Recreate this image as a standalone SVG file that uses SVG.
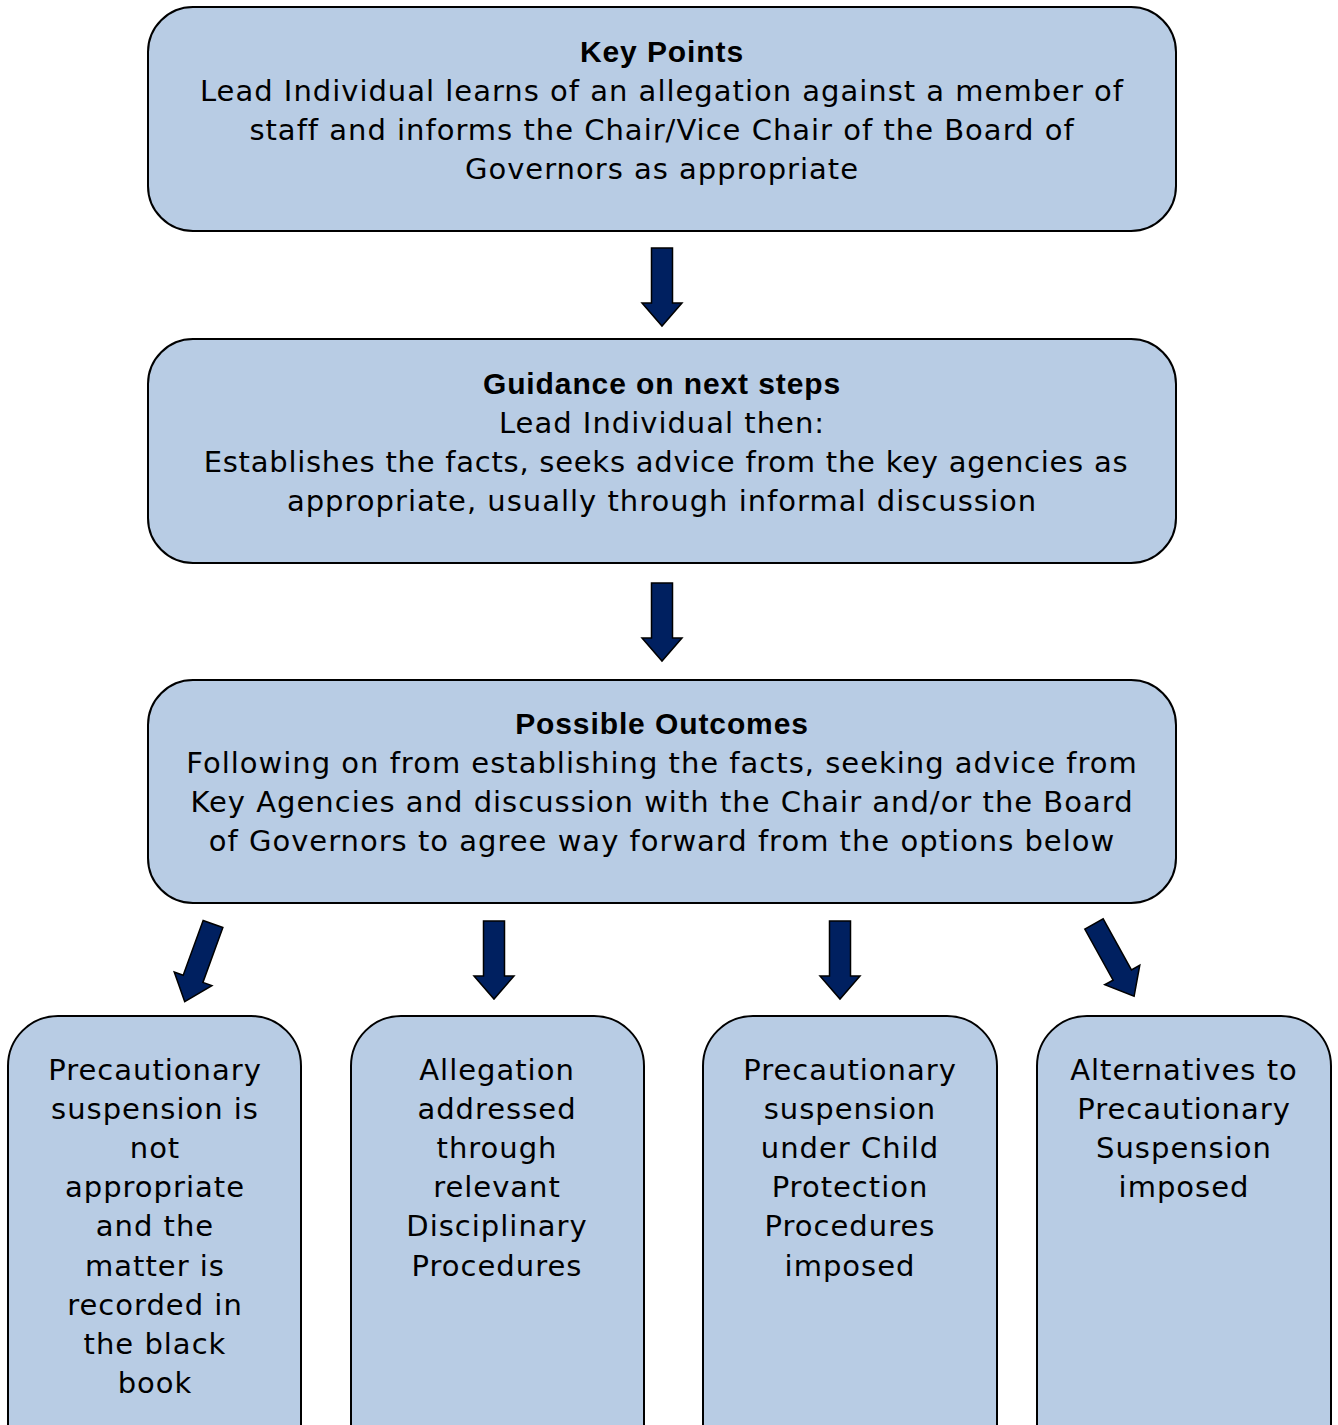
<svg xmlns="http://www.w3.org/2000/svg" xmlns:xlink="http://www.w3.org/1999/xlink" width="1338" height="1425" viewBox="0 0 1338 1425">
<style>
.box{fill:#B8CCE4;stroke:#000;stroke-width:2}
.t{font-family:"DejaVu Sans","Liberation Sans",sans-serif;font-size:29px;letter-spacing:1px;fill:#000;text-anchor:middle}
.b{font-family:"Liberation Sans",Arial,sans-serif;font-size:30px;font-weight:bold;letter-spacing:0.9px}
.arr{fill:#002060;stroke:#000;stroke-width:1.5;stroke-linejoin:miter}
</style>
<defs>
<path id="arrow" d="M-10.5,0 H10.5 V55 H20 L0,78 L-20,55 H-10.5 Z"/>
</defs>
<rect width="1338" height="1425" fill="#fff"/>
<g id="n1">
<rect class="box" x="148" y="7" width="1028" height="224" rx="45"/>
<text class="t b" x="662" y="62">Key Points</text>
<text class="t" x="662" y="101">Lead Individual learns of an allegation against a member of</text>
<text class="t" x="662" y="140">staff and informs the Chair/Vice Chair of the Board of</text>
<text class="t" x="662" y="179">Governors as appropriate</text>
</g>
<g id="n2">
<rect class="box" x="148" y="339" width="1028" height="224" rx="45"/>
<text class="t b" x="662" y="394">Guidance on next steps</text>
<text class="t" x="662" y="433">Lead Individual then:</text>
<text class="t" x="666" y="472" style="letter-spacing:0.75px">Establishes the facts, seeks advice from the key agencies as</text>
<text class="t" x="662" y="511">appropriate, usually through informal discussion</text>
</g>
<g id="n3">
<rect class="box" x="148" y="680" width="1028" height="223" rx="45"/>
<text class="t b" x="662" y="734">Possible Outcomes</text>
<text class="t" x="662" y="773">Following on from establishing the facts, seeking advice from</text>
<text class="t" x="662" y="812">Key Agencies and discussion with the Chair and/or the Board</text>
<text class="t" x="662" y="851">of Governors to agree way forward from the options below</text>
</g>
<g id="n4">
<rect class="box" x="8" y="1016" width="293" height="460" rx="50"/>
<text class="t" x="155" y="1080">Precautionary</text>
<text class="t" x="155" y="1119">suspension is</text>
<text class="t" x="155" y="1158">not</text>
<text class="t" x="155" y="1197">appropriate</text>
<text class="t" x="155" y="1236">and the</text>
<text class="t" x="155" y="1276">matter is</text>
<text class="t" x="155" y="1315">recorded in</text>
<text class="t" x="155" y="1354">the black</text>
<text class="t" x="155" y="1393">book</text>
</g>
<g id="n5">
<rect class="box" x="351" y="1016" width="293" height="460" rx="50"/>
<text class="t" x="497" y="1080">Allegation</text>
<text class="t" x="497" y="1119">addressed</text>
<text class="t" x="497" y="1158">through</text>
<text class="t" x="497" y="1197">relevant</text>
<text class="t" x="497" y="1236">Disciplinary</text>
<text class="t" x="497" y="1276">Procedures</text>
</g>
<g id="n6">
<rect class="box" x="703" y="1016" width="294" height="460" rx="50"/>
<text class="t" x="850" y="1080">Precautionary</text>
<text class="t" x="850" y="1119">suspension</text>
<text class="t" x="850" y="1158">under Child</text>
<text class="t" x="850" y="1197">Protection</text>
<text class="t" x="850" y="1236">Procedures</text>
<text class="t" x="850" y="1276">imposed</text>
</g>
<g id="n7">
<rect class="box" x="1037" y="1016" width="294" height="460" rx="50"/>
<text class="t" x="1184" y="1080">Alternatives to</text>
<text class="t" x="1184" y="1119">Precautionary</text>
<text class="t" x="1184" y="1158">Suspension</text>
<text class="t" x="1184" y="1197">imposed</text>
</g>
<g id="connectors">
<use xlink:href="#arrow" class="arr" transform="translate(662,248)"/>
<use xlink:href="#arrow" class="arr" transform="translate(662,583)"/>
<use xlink:href="#arrow" class="arr" transform="translate(494,921)"/>
<use xlink:href="#arrow" class="arr" transform="translate(840,921)"/>
<use xlink:href="#arrow" class="arr" transform="translate(213,924) rotate(20) scale(1,1.06)"/>
<use xlink:href="#arrow" class="arr" transform="translate(1094,924) rotate(-29) scale(1,1.06)"/>
</g>
</svg>
